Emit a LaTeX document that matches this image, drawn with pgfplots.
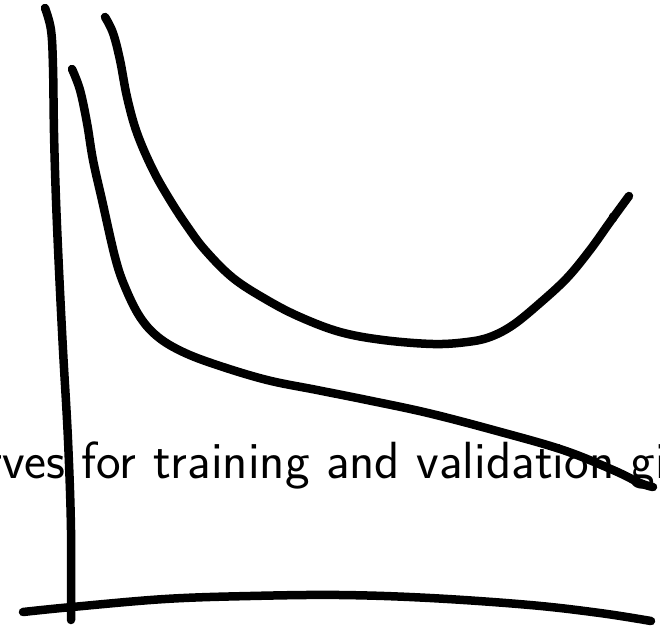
\documentclass[border=0pt]{standalone}
\usepackage{pgfplots}
\pgfplotsset{compat=1.18}
\usepackage{fontspec}
\setsansfont{Latin Modern Sans}
\pgfplotsset{sk/.style={black, line width=8.5pt, line cap=round, line join=round, smooth, tension=0.6, mark=none}}
\begin{document}
\begin{tikzpicture}
\clip (0,0) rectangle (660pt,628pt);
\begin{axis}[
  at={(0,0)}, anchor=south west,
  scale only axis, width=660pt, height=628pt,
  xmin=0, xmax=660, ymin=0, ymax=628, y dir=reverse,
  axis lines=none, clip=false
]
\addplot[sk] coordinates {(45,8)(51,30)(53,67)(54,133)(56,200)(59,270)(63,350)(68,440)(71,530)(71,620)};
\addplot[sk] coordinates {(23,612)(72,607)(165,599)(250,596)(340,595)(430,598)(530,605)(600,613)(651,621)};
\addplot[sk] coordinates {(72,69)(80,90)(87,123)(93,160)(102,200)(115,257)(125,287)(140,317)(158,337)(183,352)(217,365)(267,380)(317,390)(367,400)(428,413)(497,431)(563,450)(613,470)(640,483)(653,487)};
\addplot[sk] coordinates {(105,17)(113,33)(120,60)(127,97)(137,133)(153,170)(170,200)(187,226)(205,250)(233,278)(267,300)(300,317)(340,332)(383,340)(433,344)(467,342)(490,337)(513,325)(540,303)(567,278)(590,250)(610,222)(629,196)};
\addplot[sk, line width=6pt] coordinates {(612,216)(614,219)};
\node[anchor=base west, inner sep=0pt, font=\sffamily\fontsize{52.3}{60}\selectfont] at (axis cs:81.5,478) {\llap{Learning curves }for training and validation given};
\end{axis}
\end{tikzpicture}
\end{document}
